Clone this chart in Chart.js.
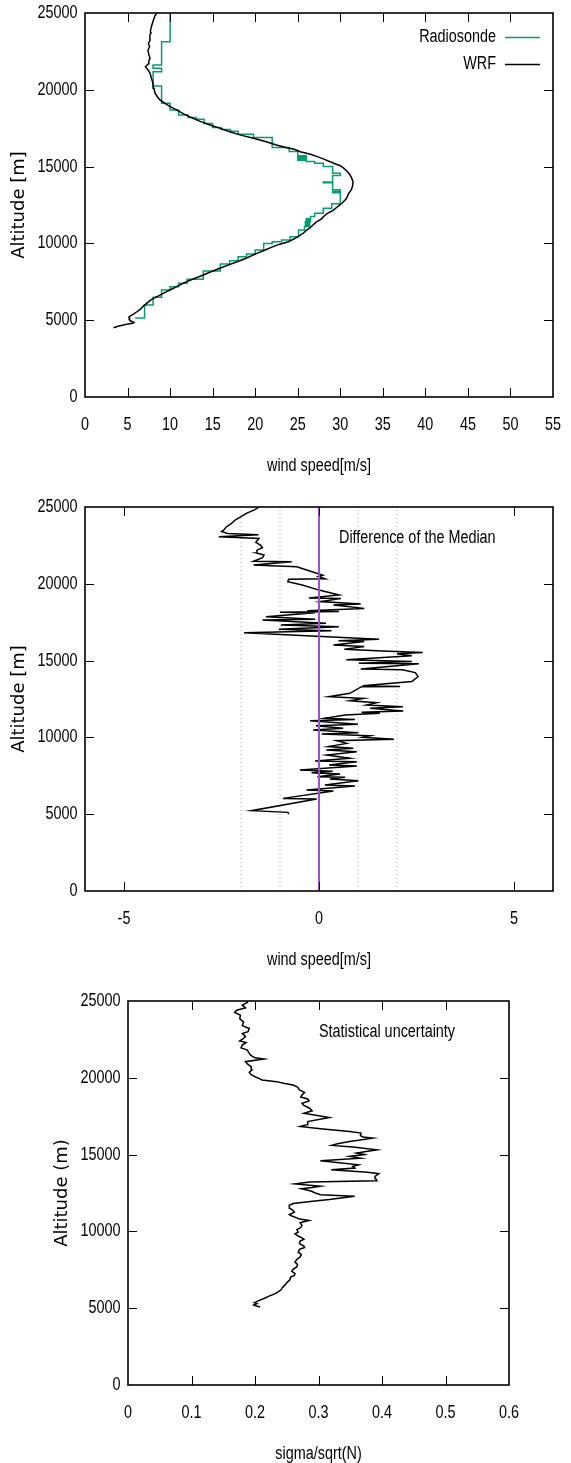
<!DOCTYPE html>
<html>
<head>
<meta charset="utf-8">
<title>Wind speed profiles</title>
<script src="https://cdn.jsdelivr.net/npm/chart.js@4.4.1/dist/chart.umd.min.js"></script>
<style>
  html, body { margin: 0; padding: 0; background: #fff; }
  body { position: relative; width: 571px; height: 1463px; overflow: hidden; }
  canvas { position: absolute; left: 0; }
</style>
</head>
<body>
<canvas id="wind" width="571" height="490" style="top:0"></canvas>
<canvas id="diff" width="571" height="490" style="top:490px"></canvas>
<canvas id="sigma" width="571" height="500" style="top:980px"></canvas>
<script>
// ---- axis ticks ----
const altTicks = [0, 5000, 10000, 15000, 20000, 25000];
const speedTicks = [0, 5, 10, 15, 20, 25, 30, 35, 40, 45, 50, 55];
const diffTicks = [-5, 0, 5];
const diffLimits = [-6, 6];
const sigmaTicks = [0, 0.1, 0.2, 0.3, 0.4, 0.5, 0.6];
const diffGuides = [-2, -1, 1, 2];
const diffZero = [0];

// ---- WRF model profile (altitude m, wind speed m/s) ----
const wrfAlt = [4510, 4600, 4690, 4760, 4800, 4850, 4900, 4960, 5050, 5120, 5200, 5280, 5400, 5550, 5700, 5920, 6100, 6300, 6420, 6600,
  6860, 7000, 7250, 7510, 7700, 7940, 8150, 8380, 8600, 8870, 9100, 9350, 9550, 9790, 9950, 10110, 10300, 10500, 10660, 10850,
  11000, 11200, 11400, 11600, 11740, 11950, 12170, 12400, 12610, 12900, 13260, 13500, 13750, 14030, 14300, 14500, 14700, 14900, 15060, 15200,
  15320, 15500, 15650, 15800, 15970, 16130, 16250, 16410, 16620, 16840, 17050, 17270, 17490, 17710, 17930, 18140, 18400, 18680, 18900, 19120,
  19340, 19550, 19770, 20100, 20420, 20750, 21070, 21300, 21500, 21700, 21900, 22050, 22300, 22590, 22800, 23000, 23240, 23500, 23700, 23890,
  24200, 24540, 24800, 25000];
const wrfSpeed = [3.35, 3.9, 4.5, 5.1, 5.6, 5.75, 5.6, 5.3, 5.2, 5.25, 5.15, 5.35, 5.7, 6.1, 6.5, 6.85, 7.25, 7.7, 8.05, 8.7,
  9.6, 10.1, 11.0, 11.95, 12.8, 13.9, 14.8, 15.85, 16.9, 18.2, 19.2, 20.2, 21.1, 22.1, 22.9, 23.9, 24.6, 25.2, 25.65, 26.0,
  26.4, 26.8, 27.2, 27.8, 28.0, 28.5, 29.2, 29.7, 30.2, 30.7, 31.0, 31.3, 31.45, 31.5, 31.3, 31.1, 30.8, 30.4, 30.0, 29.3,
  28.8, 28.0, 27.3, 26.5, 25.3, 24.6, 23.6, 22.5, 21.3, 19.8, 18.3, 17.0, 15.9, 14.7, 13.6, 12.7, 11.7, 10.8, 10.0, 9.4,
  8.8, 8.5, 8.25, 8.1, 8.0, 7.8, 7.65, 7.4, 7.1, 7.45, 7.5, 7.65, 7.5, 7.4, 7.6, 7.45, 7.65, 7.6, 7.75, 7.7,
  7.85, 8.05, 8.2, 8.45];

// ---- radiosonde profile: speed reached at each level, held up to the next ----
const sondeAlt = [5150, 5150, 5990, 6490, 6970, 7180, 7400, 7660, 8200, 8660, 8870, 9130, 9310, 9570, 10000, 10110, 10220, 10440, 10870, 11100,
  11160, 11260, 11330, 11420, 11500, 11600, 11750, 11970, 12290, 12580, 13300, 13380, 13500, 13950, 13990, 14420, 14560, 15000, 15220, 15330,
  15420, 15480, 15560, 15620, 15700, 15980, 16250, 16900, 17100, 17300, 17420, 17550, 17800, 18080, 18200, 18360, 18680, 19120, 20240, 21180,
  21400, 21610, 23130, 25000];
const sondeSpeed = [5.9, 7.0, 8.0, 9.0, 10.0, 11.0, 12.0, 13.9, 15.9, 17.0, 18.0, 19.0, 20.0, 21.0, 22.0, 23.1, 24.1, 25.1, 25.8, 26.4,
  25.9, 26.4, 25.9, 26.5, 26.0, 26.5, 27.0, 28.0, 29.0, 30.0, 29.1, 30.0, 29.1, 28.0, 29.1, 30.0, 29.1, 28.0, 27.0, 26.0,
  25.0, 26.0, 25.0, 26.0, 25.0, 24.0, 22.0, 19.8, 18.0, 17.1, 16.0, 15.0, 14.0, 13.1, 12.1, 11.0, 10.0, 9.0, 8.0, 9.0,
  8.0, 9.0, 10.0, 10.0];

// ---- difference of the median (altitude m, wind speed m/s) ----
const diffAlt = [5000, 5120, 5230, 5990, 6030, 6510, 6580, 6840, 6900, 7180, 7290, 7400, 7440, 7620, 7700, 7800, 7880, 8140, 8200, 8420,
  8460, 8640, 8850, 9070, 9180, 9290, 9400, 9610, 9790, 9880, 10010, 10100, 10220, 10310, 10480, 10590, 10760, 10850, 11090, 11170,
  11240, 11460, 11570, 11640, 11720, 11890, 12000, 12110, 12260, 12390, 12540, 12650, 12870, 13300, 13320, 13360, 13640, 13960, 14220, 14400,
  14460, 14790, 14830, 14940, 15050, 15310, 15440, 15520, 15630, 15740, 15910, 16020, 16240, 16300, 16390, 16820, 16950, 17040, 17210, 17320,
  17430, 17640, 17690, 17860, 18120, 18150, 18190, 18250, 18400, 18620, 18680, 18840, 19050, 19080, 19270, 19590, 19920, 20130, 20300, 20330,
  20470, 20560, 21110, 21220, 21440, 21460, 21700, 21870, 22000, 22190, 22350, 22520, 22700, 22950, 23060, 23190, 23270, 23400, 23530, 23700,
  23920, 24150, 24360, 24600, 24830, 25000];
const diffSpeed = [-0.77, -0.80, -1.73, -0.06, -0.92, 0.37, -0.32, 0.92, 0.15, 1.01, 0.28, 0.67, -0.04, 0.54, -0.19, 0.35, -0.49, 0.97, 0.26, 0.97,
  -0.10, 0.79, 0.20, 0.97, 0.19, 0.88, 0.24, 0.71, 0.45, 1.92, 1.12, 1.30, 0.07, 1.01, -0.15, 0.62, -0.08, 1.00, -0.23, 0.92,
  0.15, 0.67, 1.56, 1.09, 2.16, 1.31, 2.15, 1.22, 1.48, 0.79, 1.14, 0.26, 0.79, 1.09, 2.08, 1.12, 2.38, 2.54, 2.47, 2.14,
  1.07, 2.56, 1.02, 2.38, 0.70, 2.38, 2.00, 2.66, 1.63, 0.65, 1.16, 0.37, 1.16, 0.50, 1.54, -1.92, 0.32, -1.03, 0.51, -0.98,
  0.18, -1.45, -0.10, -1.36, -0.10, -1.00, 0.51, -0.30, 1.16, 0.37, 1.07, 0.04, 0.56, -0.26, 0.51, 0.00, -0.43, -0.80, -0.78, 0.15,
  -0.02, 0.10, -0.57, -1.68, -0.70, -1.68, -1.45, -1.41, -1.60, -1.59, -1.45, -1.50, -1.62, -1.54, -2.57, -1.55, -2.34, -2.50, -2.43, -2.38,
  -2.25, -2.15, -2.01, -1.85, -1.64, -1.54];

// ---- statistical uncertainty (altitude m, sigma/sqrt(N)) ----
const sigmaAlt = [5080, 5160, 5210, 5300, 5360, 5510, 5650, 5800, 5950, 6080, 6200, 6340, 6500, 6700, 6850, 7030, 7130, 7250, 7400, 7530,
  7700, 7850, 8000, 8180, 8330, 8500, 8650, 8830, 8950, 9040, 9200, 9370, 9480, 9580, 9700, 9840, 9950, 10120, 10250, 10400,
  10560, 10710, 10800, 10880, 11000, 11100, 11250, 11360, 11500, 11700, 11810, 11960, 12070, 12290, 12390, 12500, 12610, 12700, 12780, 12860,
  12940, 13090, 13220, 13300, 13440, 13580, 13760, 13800, 13860, 14020, 14120, 14230, 14340, 14600, 14770, 14880, 15000, 15100, 15310, 15490,
  15600, 15700, 15850, 16070, 16150, 16240, 16400, 16500, 16680, 16830, 16950, 17150, 17410, 17590, 17690, 17850, 18020, 18200, 18340, 18500,
  18620, 18750, 18880, 19050, 19210, 19400, 19530, 19650, 19750, 19860, 19950, 20070, 20200, 20350, 20500, 20720, 20900, 21050, 21220, 21300,
  21480, 21650, 21800, 21950, 22130, 22300, 22400, 22560, 22700, 22880, 23000, 23210, 23400, 23640, 23850, 24080, 24250, 24400, 24550, 24730,
  24900, 24980];
const sigmaValue = [0.208, 0.201, 0.198, 0.203, 0.199, 0.207, 0.215, 0.223, 0.232, 0.237, 0.241, 0.243, 0.247, 0.251, 0.255, 0.256, 0.262, 0.263, 0.258, 0.260,
  0.266, 0.267, 0.263, 0.266, 0.271, 0.273, 0.268, 0.270, 0.278, 0.277, 0.270, 0.271, 0.277, 0.274, 0.268, 0.263, 0.268, 0.266, 0.272, 0.274,
  0.271, 0.285, 0.270, 0.266, 0.258, 0.254, 0.262, 0.260, 0.255, 0.254, 0.260, 0.291, 0.317, 0.357, 0.303, 0.295, 0.289, 0.282, 0.273, 0.290,
  0.303, 0.263, 0.286, 0.392, 0.390, 0.389, 0.395, 0.388, 0.372, 0.320, 0.357, 0.354, 0.363, 0.303, 0.366, 0.349, 0.372, 0.360, 0.392, 0.354,
  0.321, 0.330, 0.349, 0.386, 0.370, 0.366, 0.367, 0.349, 0.303, 0.271, 0.282, 0.283, 0.317, 0.291, 0.277, 0.290, 0.286, 0.277, 0.274, 0.285,
  0.283, 0.272, 0.274, 0.278, 0.270, 0.267, 0.260, 0.245, 0.234, 0.211, 0.207, 0.200, 0.194, 0.191, 0.195, 0.194, 0.188, 0.185, 0.214, 0.200,
  0.193, 0.190, 0.188, 0.178, 0.180, 0.186, 0.176, 0.182, 0.185, 0.180, 0.189, 0.191, 0.180, 0.182, 0.176, 0.177, 0.168, 0.171, 0.185, 0.180,
  0.188, 0.187];

// ---- styling ----
const LABEL_FONT = "18px 'Liberation Sans', Arial, sans-serif";
const LABEL_SQUEEZE = 0.8;          // narrow, condensed look for labels
const YTITLE_FONT = { family: "'DejaVu Sans', Verdana, sans-serif", size: 18 };
const SONDE_GREEN = '#009e73';
const ZERO_PURPLE = '#a24bdb';

const pts = (xs, ys) => xs.map((v, i) => ({ x: v, y: ys[i] }));
const vline = v => [{ x: v, y: altTicks[0] }, { x: v, y: altTicks[altTicks.length - 1] }];

function narrowText(ctx, text, x, y, align) {
  ctx.save();
  ctx.translate(x, y);
  ctx.scale(LABEL_SQUEEZE, 1);
  ctx.textAlign = align;
  ctx.fillText(text, 0, 0);
  ctx.restore();
}

// frame box with inward ticks on all four sides, plus tick labels and x title
const frameTicks = {
  id: 'frameTicks',
  afterDatasetsDraw(chart, args, opts) {
    const { ctx, chartArea: a, scales: { x, y } } = chart;
    const len = 9;
    ctx.save();
    ctx.strokeStyle = '#000';
    ctx.lineWidth = 1;
    ctx.beginPath();
    x.ticks.forEach(t => {
      const px = Math.round(x.getPixelForValue(t.value)) + 0.5;
      if (px < a.left + 2 || px > a.right - 2) return;
      ctx.moveTo(px, a.bottom); ctx.lineTo(px, a.bottom - len);
      ctx.moveTo(px, a.top); ctx.lineTo(px, a.top + len);
    });
    y.ticks.forEach(t => {
      const py = Math.round(y.getPixelForValue(t.value)) + 0.5;
      if (py < a.top + 2 || py > a.bottom - 2) return;
      ctx.moveTo(a.left, py); ctx.lineTo(a.left + len, py);
      ctx.moveTo(a.right, py); ctx.lineTo(a.right - len, py);
    });
    ctx.stroke();
    ctx.lineWidth = 1.6;
    ctx.strokeRect(a.left, a.top, a.right - a.left, a.bottom - a.top);

    ctx.fillStyle = '#000';
    ctx.font = LABEL_FONT;
    ctx.textBaseline = 'middle';
    x.ticks.forEach(t => narrowText(ctx, opts.xFmt(t.value), x.getPixelForValue(t.value), a.bottom + 28, 'center'));
    y.ticks.forEach(t => narrowText(ctx, String(t.value), a.left - 7.5, y.getPixelForValue(t.value), 'right'));
    narrowText(ctx, opts.xTitle, (a.left + a.right) / 2, a.bottom + 69, 'center');
    ctx.restore();
  }
};

// key entries (text left of the line sample) and free captions inside the frame
const panelText = {
  id: 'panelText',
  afterDraw(chart, args, opts) {
    const { ctx, chartArea: a } = chart;
    ctx.save();
    ctx.font = LABEL_FONT;
    ctx.fillStyle = '#000';
    ctx.textBaseline = 'middle';
    if (opts.key) {
      chart.data.datasets.forEach((ds, i) => {
        const yy = a.top + 24 + i * 27;
        narrowText(ctx, ds.label, a.right - 57, yy, 'right');
        ctx.strokeStyle = ds.borderColor;
        ctx.lineWidth = 1.5;
        ctx.beginPath();
        ctx.moveTo(a.right - 48, yy + 0.5);
        ctx.lineTo(a.right - 13, yy + 0.5);
        ctx.stroke();
      });
    }
    if (opts.caption) {
      narrowText(ctx, opts.caption, a.left + opts.dx, a.top + 31, 'left');
    }
    ctx.restore();
  }
};

function makeChart(id, g) {
  const canvas = document.getElementById(id);
  const H = canvas.height;
  return new Chart(canvas, {
    type: 'line',
    data: { datasets: g.datasets },
    options: {
      responsive: false,
      animation: false,
      events: [],
      layout: { padding: { top: g.top, right: 571 - g.right, bottom: 0, left: 0 } },
      elements: { point: { radius: 0 }, line: { tension: 0, borderWidth: 1.5, borderCapStyle: 'butt' } },
      plugins: {
        legend: { display: false }, tooltip: { enabled: false },
        panelText: g.text,
        frameTicks: { xFmt: g.xFmt, xTitle: g.xTitle }
      },
      scales: {
        x: {
          type: 'linear', min: g.xLimits[0], max: g.xLimits[1],
          grid: { display: false, drawTicks: false }, border: { display: false },
          ticks: { display: false, autoSkip: false },
          afterBuildTicks: s => { s.ticks = g.xTicks.map(v => ({ value: v })); },
          afterFit: s => { s.height = H - g.bottom; },
          title: { display: false, text: g.xTitle }
        },
        y: {
          type: 'linear', min: altTicks[0], max: altTicks[altTicks.length - 1],
          grid: { display: false, drawTicks: false }, border: { display: false },
          ticks: { display: false, autoSkip: false },
          afterBuildTicks: s => { s.ticks = altTicks.map(v => ({ value: v })); },
          afterFit: s => { s.width = g.left; },
          title: { display: true, text: g.yTitle, font: YTITLE_FONT, color: '#000', padding: { top: g.yTitlePad, bottom: 0 } }
        }
      }
    },
    plugins: [frameTicks, panelText]
  });
}

// Wind speed: radiosonde vs WRF
makeChart('wind', {
  top: 13, bottom: 397, left: 85, right: 553,
  xTicks: speedTicks, xLimits: [speedTicks[0], speedTicks[speedTicks.length - 1]], xFmt: v => String(v),
  xTitle: 'wind speed[m/s]',
  yTitle: 'Altitude [m]', yTitlePad: 9,
  text: { key: true },
  datasets: [
    { label: 'Radiosonde', data: pts(sondeSpeed, sondeAlt), borderColor: SONDE_GREEN, stepped: 'after', order: 1 },
    { label: 'WRF', data: pts(wrfSpeed, wrfAlt), borderColor: '#000', order: 0 }
  ]
});

// Difference of the median
makeChart('diff', {
  top: 17, bottom: 401, left: 85, right: 553,
  xTicks: diffTicks, xLimits: diffLimits, xFmt: v => String(v),
  xTitle: 'wind speed[m/s]',
  yTitle: 'Altitude [m]', yTitlePad: 9,
  text: { caption: 'Difference of the Median', dx: 254 },
  datasets: [
    { label: 'zero', data: vline(diffZero[0]), borderColor: ZERO_PURPLE, borderWidth: 2 },
    { label: 'Difference of the Median', data: pts(diffSpeed, diffAlt), borderColor: '#000' },
    ...diffGuides.map(v => ({ label: 'guide', data: vline(v), borderColor: '#a8a8a8', borderWidth: 1, borderDash: [1, 3] }))
  ]
});

// Statistical uncertainty
makeChart('sigma', {
  top: 21, bottom: 405, left: 128, right: 509,
  xTicks: sigmaTicks, xLimits: [sigmaTicks[0], sigmaTicks[sigmaTicks.length - 1]], xFmt: v => String(+v.toFixed(2)),
  xTitle: 'sigma/sqrt(N)',
  yTitle: 'Altitude (m)', yTitlePad: 52,
  text: { caption: 'Statistical uncertainty', dx: 191 },
  datasets: [
    { label: 'Statistical uncertainty', data: pts(sigmaValue, sigmaAlt), borderColor: '#000' }
  ]
});
</script>
</body>
</html>
